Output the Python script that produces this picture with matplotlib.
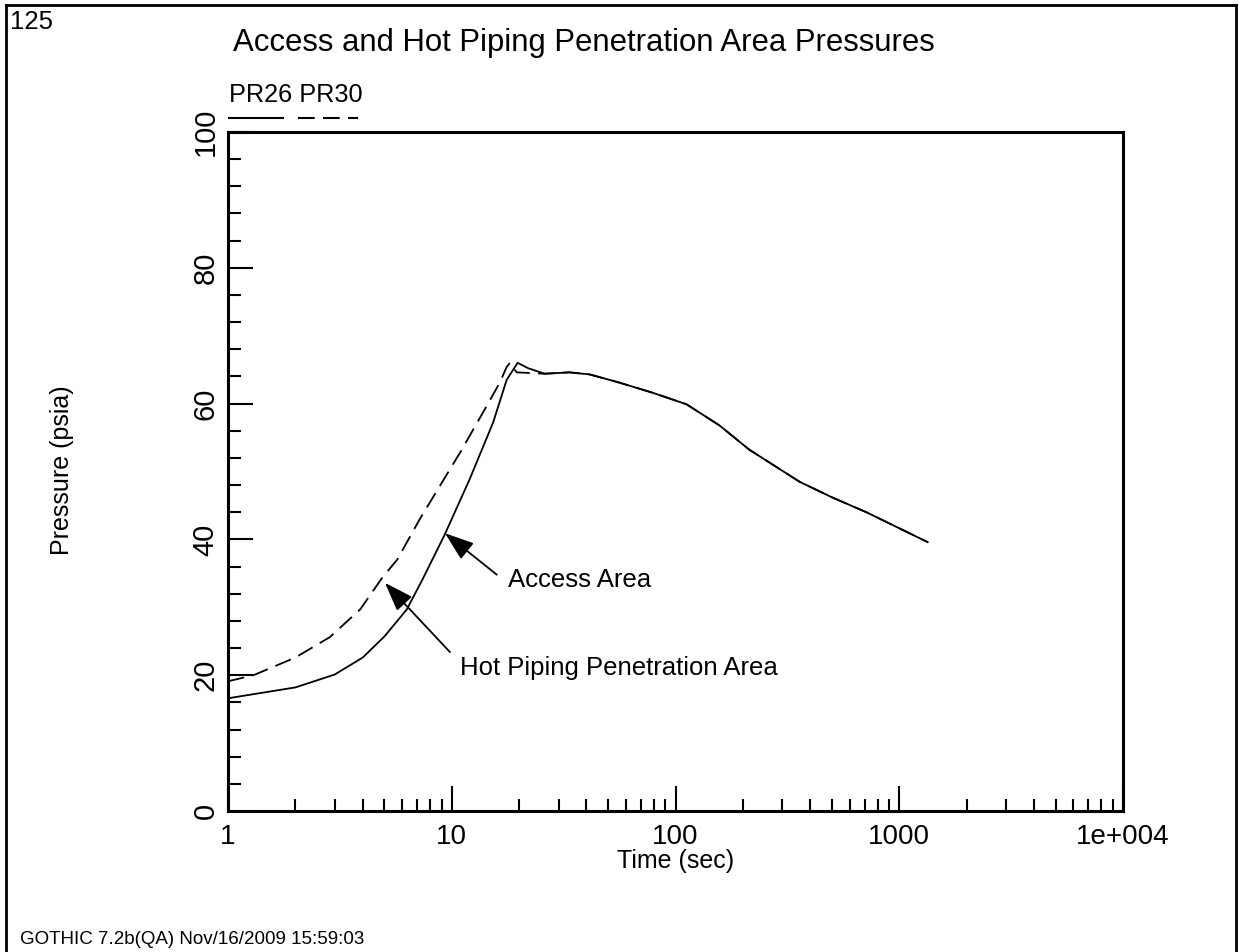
import matplotlib
matplotlib.use("Agg")
import matplotlib.pyplot as plt
from matplotlib.lines import Line2D
from matplotlib.ticker import FixedLocator, LogLocator, NullFormatter, MultipleLocator

plt.rcParams['font.family'] = ['Liberation Sans', 'DejaVu Sans']
plt.rcParams['lines.scale_dashes'] = False

# ---- data ----
t_pr26 = [1, 2, 3, 4, 5, 6.3, 7.4, 9.3, 12, 15.3, 17.6, 19.7, 22, 26, 33.6, 41.3,
          56, 79, 112, 157, 214, 358, 500, 713, 1340]
p_pr26 = [16.6, 18.2, 20.1, 22.6, 25.7, 29.7, 34.1, 40.7, 48.8, 57.2, 63.5, 66.0,
          65.2, 64.4, 64.6, 64.3, 63.1, 61.6, 59.9, 56.8, 53.2, 48.5, 46.2, 44.0, 39.6]

t_pr30 = [1, 1.3, 2, 2.85, 3.9, 4.9, 5.7, 7.2, 10.9, 14.3, 16.4, 17.6, 18.2, 19.5,
          26, 33.6, 41.3, 56, 79, 112, 157, 214, 358, 500, 713, 1340]
p_pr30 = [19.1, 20.0, 22.6, 25.6, 29.7, 34.4, 37.0, 43.0, 52.8, 59.6, 63.1, 65.4,
          66.0, 64.6, 64.4, 64.6, 64.3, 63.1, 61.6, 59.9, 56.8, 53.2, 48.5, 46.2, 44.0, 39.6]

x_ticks = [1, 10, 100, 1000, 10000]
x_tick_labels = ['1', '10', '100', '1000', '1e+004']
y_ticks = [0, 20, 40, 60, 80, 100]
y_tick_labels = ['0', '20', '40', '60', '80', '100']

title = 'Access and Hot Piping Penetration Area Pressures'
legend_names = 'PR26 PR30'

W, H = 1239, 952
fig = plt.figure(figsize=(W / 100, H / 100), dpi=100)

def fx(px):
    return px / W

def fy(py):
    return 1 - py / H

ax = fig.add_axes([fx(228), fy(811), fx(1123) - fx(228), fy(132) - fy(811)])

ax.plot(t_pr30, p_pr30, color='black', lw=1.3, dashes=(12, 6))
ax.plot(t_pr26, p_pr26, color='black', lw=1.3)

ax.set_xscale('log')
ax.set_xlim(1, 10000)
ax.set_ylim(0, 100)

ax.xaxis.set_major_locator(FixedLocator(x_ticks))
ax.set_xticklabels(x_tick_labels)
ax.xaxis.set_minor_locator(LogLocator(base=10, subs=range(2, 10)))
ax.xaxis.set_minor_formatter(NullFormatter())
ax.yaxis.set_major_locator(FixedLocator(y_ticks))
ax.set_yticklabels(y_tick_labels, rotation=90, va='center')
ax.yaxis.set_minor_locator(MultipleLocator(4))

ax.tick_params(which='both', direction='in', top=False, right=False, width=1.5,
               labelsize=20, colors='black')
ax.tick_params(which='major', length=18)
ax.tick_params(which='minor', length=9)
ax.tick_params(axis='y', labelsize=21, pad=6)
ax.tick_params(axis='x', pad=9)

for s in ax.spines.values():
    s.set_linewidth(2.2)

ax.set_xlabel('Time (sec)', fontsize=18)
ax.set_ylabel('Pressure (psia)', fontsize=18)
ax.xaxis.set_label_coords(0.5006, -0.074)
ax.yaxis.set_label_coords(-0.1855, 0.502)
ax.xaxis.label.set_va('center')
ax.yaxis.label.set_va('center')

# annotations
arrow_kw = dict(arrowstyle='-|>,head_length=0.9,head_width=0.32', color='black',
                lw=1.3, mutation_scale=20, shrinkA=0, shrinkB=0)
ax.annotate('', xy=(9.33, 40.9), xytext=(15.9, 34.8), arrowprops=arrow_kw)
ax.text(17.8, 34.0, 'Access Area', fontsize=18.5, va='center', ha='left')
ax.annotate('', xy=(5.03, 33.6), xytext=(9.82, 23.4), arrowprops=arrow_kw)
ax.text(10.9, 21.0, 'Hot Piping Penetration Area', fontsize=18.5, va='center', ha='left')

# figure texts
fig.text(fx(233), fy(43), title, fontsize=22.4, ha='left', va='center')
fig.text(fx(10), fy(22), '125', fontsize=18.5, ha='left', va='center')
fig.text(fx(229), fy(95), legend_names, fontsize=18.2, ha='left', va='center')
fig.text(fx(20), fy(940), 'GOTHIC 7.2b(QA) Nov/16/2009 15:59:03', fontsize=13.5,
         ha='left', va='center')

# legend sample lines
fig.add_artist(Line2D([fx(229), fx(283)], [fy(118), fy(118)], color='black', lw=1.5))
fig.add_artist(Line2D([fx(298), fx(358)], [fy(118), fy(118)], color='black', lw=1.5,
                      dashes=(12, 6)))

# figure border
border_kw = dict(color='black', lw=2)
fig.add_artist(Line2D([fx(6), fx(6)], [0, fy(5)], **border_kw))
fig.add_artist(Line2D([fx(6), fx(1236)], [fy(5), fy(5)], **border_kw))
fig.add_artist(Line2D([fx(1236), fx(1236)], [fy(5), 0], **border_kw))

fig.savefig('out.png', dpi=100)
